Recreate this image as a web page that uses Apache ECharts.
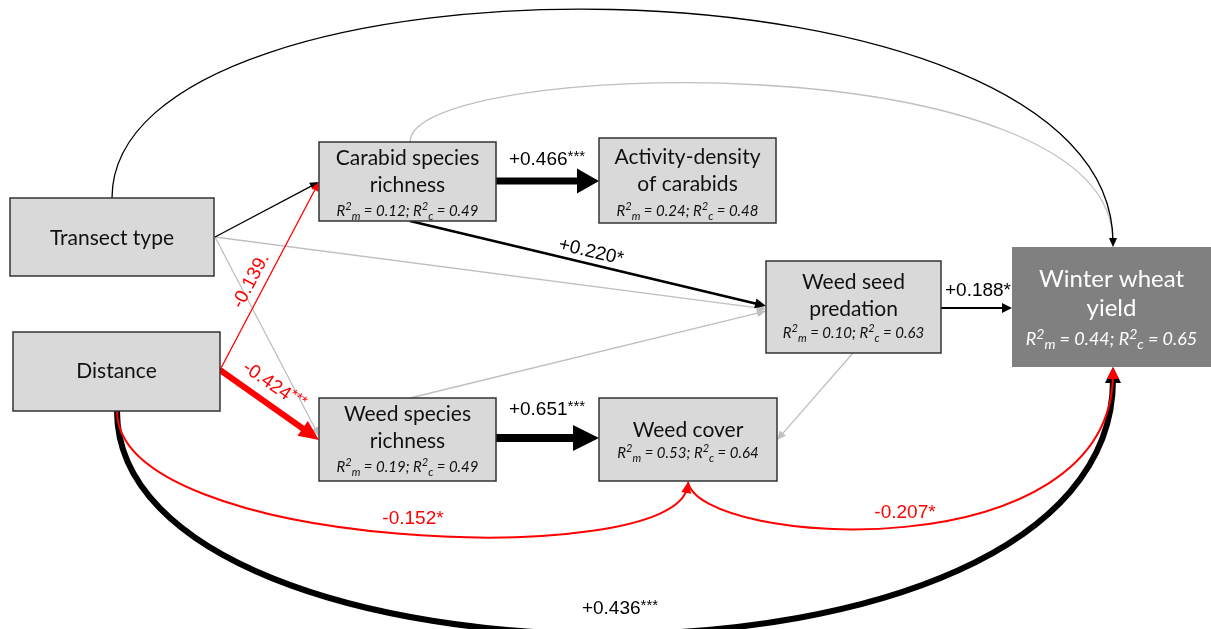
<!DOCTYPE html>
<html>
<head>
<meta charset="utf-8">
<script src="https://cdn.jsdelivr.net/npm/echarts@6/dist/echarts.min.js"></script>
<style>
  html, body { margin: 0; padding: 0; background: #ffffff; }
  #chart { width: 1211px; height: 629px; }
</style>
</head>
<body>
<div id="chart"></div>
<script>
// Variables of the path model and their explained variance
const nodeNames = [
  'Transect type',
  'Distance',
  'Carabid species\nrichness',
  'Activity-density\nof carabids',
  'Weed species\nrichness',
  'Weed cover',
  'Weed seed\npredation',
  'Winter wheat\nyield'
];
const r2Marginal = [null, null, 0.12, 0.24, 0.19, 0.53, 0.10, 0.44];
const r2Conditional = [null, null, 0.49, 0.48, 0.49, 0.64, 0.63, 0.65];

// Paths: source node, target node, standardised coefficient, significance
const pathFrom = [2, 0, 0, 4, 6, 0, 0, 1, 2, 4, 2, 6, 1, 1, 1, 5];
const pathTo   = [7, 6, 4, 6, 5, 7, 2, 7, 3, 5, 6, 7, 2, 4, 5, 7];
const pathCoef = [null, null, null, null, null, null, null,
  0.436, 0.466, 0.651, 0.220, 0.188, -0.139, -0.424, -0.152, -0.207];
const pathSig  = ['', '', '', '', '', '', '',
  '***', '***', '***', '*', '*', '.', '***', '*', '*'];

// ---- layout (diagram coordinates) ----
const NODE_FONT = 'Lato, "Open Sans", sans-serif';
const EDGE_FONT = '"Liberation Sans", Arial, sans-serif';
const GRAY = '#bfbfbf', BLACK = '#000000', RED = '#ff0000';

const nodeLayout = [
  { box: [10, 198, 214, 276], titleY: 238 },
  { box: [13, 332, 220, 411], titleY: 371 },
  { box: [319, 142, 496, 221], titleY: 172, r2Y: 211 },
  { box: [599, 138, 776, 223], titleY: 170.5, r2Y: 211 },
  { box: [319, 398, 496, 481], titleY: 428, r2Y: 467 },
  { box: [599, 398, 777, 481], titleY: 430, r2Y: 453 },
  { box: [766, 261, 941, 353], titleY: 295.5, r2Y: 333 },
  { box: [1012, 247, 1211, 367], titleY: 294, r2Y: 339, dark: true }
];

// Route of each path: two points = straight, four points = cubic curve
const edgeLayout = [
  { pts: [[410, 142], [410, 58], [1113, 45], [1113, 247]], color: GRAY, width: 1.3, head: [9, 4] },
  { pts: [[215, 237], [766, 309]], color: GRAY, width: 1.3, head: [9, 4] },
  { pts: [[215, 237], [319, 436]], color: GRAY, width: 1.3, head: [9, 4] },
  { pts: [[410, 398], [766, 311]], color: GRAY, width: 1.3, head: [9, 4] },
  { pts: [[853, 353], [777, 440]], color: GRAY, width: 1.3, head: [9, 4] },
  { pts: [[112, 198], [112, -62], [1113, -55], [1113, 247]], color: BLACK, width: 1.3, head: [9, 4] },
  { pts: [[215, 237], [319, 182]], color: BLACK, width: 1.3, head: [9, 4] },
  { pts: [[117, 411], [117, 705], [1113, 710], [1113, 367]], color: BLACK, width: 6, head: [16, 8],
    label: [620, 609], rot: 0 },
  { pts: [[496, 181], [599, 181]], color: BLACK, width: 7, head: [22, 12.5],
    label: [547, 160], rot: 0 },
  { pts: [[496, 438], [599, 438]], color: BLACK, width: 8, head: [26, 13],
    label: [547, 410], rot: 0 },
  { pts: [[410, 221], [766, 306]], color: BLACK, width: 2.5, head: [11, 5],
    label: [591, 252], rot: -13.4 },
  { pts: [[941, 308], [1012, 308]], color: BLACK, width: 2, head: [10, 5],
    label: [978, 291], rot: 0 },
  { pts: [[220, 370], [319, 182]], color: RED, width: 1.3, head: [9, 4],
    label: [251, 281], rot: 62 },
  { pts: [[220, 370], [319, 440]], color: RED, width: 6, head: [20, 9],
    label: [274, 386], rot: -34.5 },
  { pts: [[117, 411], [117, 552], [675, 566], [688, 482]], color: RED, width: 2, head: [11, 5],
    label: [413, 519], rot: 0 },
  { pts: [[688, 482], [700, 547], [1113, 567], [1113, 367]], color: RED, width: 2, head: [12, 6],
    label: [905, 513], rot: 0 }
];

// Coefficient label: value plus significance stars (triple stars set small and raised)
function coefText(i) {
  const c = pathCoef[i];
  const num = (c > 0 ? '+' : '') + c.toFixed(3);
  const sig = pathSig[i];
  return sig === '***' ? '{n|' + num + '}{s|' + sig + '}' : '{n|' + num + sig + '}';
}

function r2Text(i) {
  return '{t|R}{sup|2}{sub|m}{t| = ' + r2Marginal[i].toFixed(2) + '; R}{sup|2}{sub|c}{t| = ' +
    r2Conditional[i].toFixed(2) + '}';
}

function renderEdge(params, api) {
  const i = params.dataIndex;
  const e = edgeLayout[i];
  const pts = e.pts.map(p => api.coord(p));
  const n = pts.length;
  const end = pts[n - 1], prev = pts[n - 2];
  let dx = end[0] - prev[0], dy = end[1] - prev[1];
  const len = Math.sqrt(dx * dx + dy * dy) || 1;
  dx /= len; dy /= len;
  const L = e.head[0], W = e.head[1];
  const back = e.width > 2 ? L * 0.8 : L * 0.5;
  const sx = end[0] - dx * back, sy = end[1] - dy * back;
  const children = [];
  const lineStyle = { stroke: e.color, lineWidth: e.width, fill: null };
  if (n === 2) {
    children.push({ type: 'line', shape: { x1: pts[0][0], y1: pts[0][1], x2: sx, y2: sy }, style: lineStyle });
  } else {
    children.push({
      type: 'bezierCurve',
      shape: {
        x1: pts[0][0], y1: pts[0][1],
        cpx1: pts[1][0], cpy1: pts[1][1],
        cpx2: pts[2][0] - dx * back, cpy2: pts[2][1] - dy * back,
        x2: sx, y2: sy
      },
      style: lineStyle
    });
  }
  const bx = end[0] - dx * L, by = end[1] - dy * L;
  children.push({
    type: 'polygon',
    shape: { points: [end, [bx - dy * W, by + dx * W], [bx + dy * W, by - dx * W]] },
    style: { fill: e.color }
  });
  if (pathCoef[i] !== null) {
    const p = api.coord(e.label);
    const col = e.color === RED ? RED : BLACK;
    children.push({
      type: 'text', x: p[0], y: p[1], rotation: (e.rot || 0) * Math.PI / 180,
      style: {
        text: coefText(i), x: 0, y: 0, align: 'center', verticalAlign: 'middle',
        fill: col, fontSize: 19, fontFamily: EDGE_FONT,
        rich: {
          n: { fill: col, fontSize: 19, fontFamily: EDGE_FONT, lineHeight: 22 },
          s: { fill: col, fontSize: 15, fontFamily: EDGE_FONT, lineHeight: 15, verticalAlign: 'top' }
        }
      }
    });
  }
  return { type: 'group', children: children };
}

function renderNode(params, api) {
  const i = params.dataIndex;
  const nd = nodeLayout[i];
  const p0 = api.coord([nd.box[0], nd.box[1]]);
  const p1 = api.coord([nd.box[2], nd.box[3]]);
  const cx = (p0[0] + p1[0]) / 2;
  const txt = nd.dark ? '#ffffff' : '#111111';
  const children = [{
    type: 'rect',
    shape: { x: p0[0], y: p0[1], width: p1[0] - p0[0], height: p1[1] - p0[1] },
    style: nd.dark ? { fill: '#808080' } : { fill: '#d9d9d9', stroke: '#333333', lineWidth: 1.5 }
  }];
  const ty = api.coord([0, nd.titleY])[1];
  children.push({
    type: 'text', x: cx, y: ty,
    style: {
      text: nodeNames[i], x: 0, y: 0, align: 'center', verticalAlign: 'middle',
      fill: txt, fontSize: nd.dark ? 24 : 21, lineHeight: nd.dark ? 29 : 27, fontFamily: NODE_FONT
    }
  });
  if (r2Marginal[i] !== null) {
    const ry = api.coord([0, nd.r2Y])[1];
    const fs = nd.dark ? 18 : 15;
    const base = { fill: txt, fontFamily: NODE_FONT, fontStyle: 'italic' };
    children.push({
      type: 'text', x: cx, y: ry,
      style: {
        text: r2Text(i), x: 0, y: 0, align: 'center', verticalAlign: 'middle',
        fill: txt, fontSize: fs, fontFamily: NODE_FONT, fontStyle: 'italic',
        rich: {
          t: Object.assign({ fontSize: fs, lineHeight: fs + 6 }, base),
          sup: Object.assign({ fontSize: fs - 4, lineHeight: fs - 3, verticalAlign: 'top' }, base),
          sub: Object.assign({ fontSize: fs - 4, lineHeight: fs - 3, verticalAlign: 'bottom' }, base)
        }
      }
    });
  }
  return { type: 'group', children: children };
}

const chart = echarts.init(document.getElementById('chart'), null, { renderer: 'canvas' });
chart.setOption({
  animation: false,
  backgroundColor: '#ffffff',
  grid: { left: 0, right: 0, top: 0, bottom: 0 },
  xAxis: { type: 'value', min: 0, max: 1211, show: false },
  yAxis: { type: 'value', min: 0, max: 629, inverse: true, show: false },
  series: [
    {
      type: 'custom', coordinateSystem: 'cartesian2d', silent: true, clip: false,
      renderItem: renderEdge,
      data: pathFrom.map((f, i) => [pathFrom[i], pathTo[i]])
    },
    {
      type: 'custom', coordinateSystem: 'cartesian2d', silent: true, clip: false,
      renderItem: renderNode,
      data: nodeNames.map((n, i) => [i, i])
    }
  ]
});
</script>
</body>
</html>
